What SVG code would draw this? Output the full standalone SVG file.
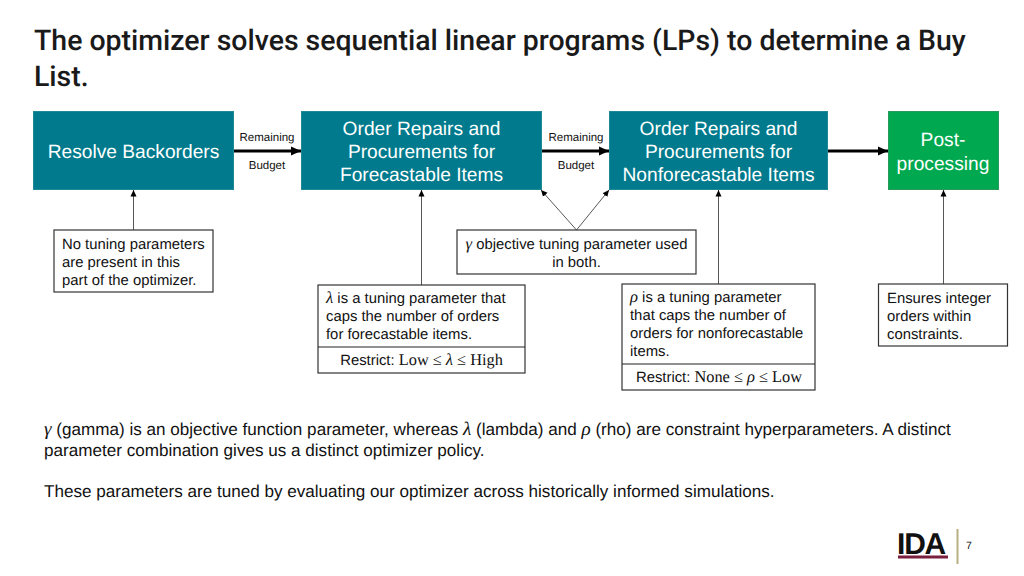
<svg xmlns="http://www.w3.org/2000/svg" width="1024" height="576" viewBox="0 0 1024 576">
<style>
text{font-family:"Liberation Sans",Arial,sans-serif;fill:#111;text-rendering:geometricPrecision}
.title{font-family:Roboto,"Liberation Sans",sans-serif;font-size:28.450px;font-weight:500;fill:#1a1a1a}
.teal{fill:#007a8c;stroke:#1f8a96}
.green{fill:#00a84f;stroke:#2a9a5c}
.pt{font-size:19.200px;fill:#fff;text-anchor:middle}
.lab{font-size:11.500px;text-anchor:middle}
.note{fill:#fff;stroke:#333;stroke-width:1.2}
.nt{font-size:14.850px}
.mid{text-anchor:middle}
.body{font-size:17.100px}
.m{font-family:"Liberation Serif",serif;font-style:italic;font-size:1.12em}
.s{font-family:"Liberation Serif",serif;font-size:1.1em}
.thick{stroke:#000;stroke-width:3.2;fill:none;marker-end:url(#big)}
.thin{stroke:#444;stroke-width:.9;fill:none;marker-end:url(#small)}
</style>
<defs>
<marker id="big" markerUnits="userSpaceOnUse" markerWidth="10" markerHeight="10" refX="10" refY="5" orient="auto"><path d="M0 .5L10 5L0 9.500Z" fill="#000"/></marker>
<marker id="small" markerUnits="userSpaceOnUse" markerWidth="7" markerHeight="7" refX="6.500" refY="3.500" orient="auto"><path d="M0 .5L6.500 3.500L0 6.500Z" fill="#000"/></marker>
</defs>
<text class="title" x="34" y="50">The optimizer solves sequential linear programs (LPs) to determine a Buy</text>
<text class="title" x="34" y="86">List.</text>

<g id="connectors">
<path class="thick" d="M233 151H301"/>
<path class="thick" d="M541 151H609"/>
<path class="thick" d="M828 151H888"/>
<path class="thin" d="M133.500 230V190"/>
<path class="thin" d="M421.500 285V190"/>
<path class="thin" d="M576.500 230L541 190"/>
<path class="thin" d="M576.500 230L609 190"/>
<path class="thin" d="M718.500 284V190"/>
<path class="thin" d="M943.500 284V190"/>
</g>
<g id="label-remaining-1"><text class="lab" x="267" y="141">Remaining</text><text class="lab" x="267" y="169">Budget</text></g>
<g id="label-remaining-2"><text class="lab" x="576" y="141">Remaining</text><text class="lab" x="576" y="169">Budget</text></g>

<g id="node-backorders"><rect class="teal" x="33.500" y="111.500" width="200" height="78"/><text class="pt" x="133.500" y="157.500">Resolve Backorders</text></g>
<g id="node-forecastable"><rect class="teal" x="301.500" y="111.500" width="240" height="78"/><text class="pt" x="421.500" y="134.500">Order Repairs and</text><text class="pt" x="421.500" y="157.500">Procurements for</text><text class="pt" x="421.500" y="180.500">Forecastable Items</text></g>
<g id="node-nonforecastable"><rect class="teal" x="609.500" y="111.500" width="218" height="78"/><text class="pt" x="718.500" y="134.500">Order Repairs and</text><text class="pt" x="718.500" y="157.500">Procurements for</text><text class="pt" x="718.500" y="180.500">Nonforecastable Items</text></g>
<g id="node-post"><rect class="green" x="888.500" y="111.500" width="110" height="78"/><text class="pt" x="943" y="146">Post-</text><text class="pt" x="943" y="169.500">processing</text></g>

<g id="note-none"><rect class="note" x="54" y="230" width="159" height="62"/><text class="nt" x="62" y="249">No tuning parameters</text><text class="nt" x="62" y="267">are present in this</text><text class="nt" x="62" y="285">part of the optimizer.</text></g>
<g id="note-gamma"><rect class="note" x="457" y="230" width="239" height="44"/><text class="nt mid" x="576.500" y="249"><tspan class="m">γ</tspan> objective tuning parameter used</text><text class="nt mid" x="576.500" y="267">in both.</text></g>
<g id="note-lambda"><rect class="note" x="318" y="285" width="207" height="88"/><path d="M318 347H525" stroke="#222" stroke-width="1.200"/><text class="nt" x="326" y="303"><tspan class="m">λ</tspan> is a tuning parameter that</text><text class="nt" x="326" y="321">caps the number of orders</text><text class="nt" x="326" y="339">for forecastable items.</text><text class="nt mid" x="421.500" y="365">Restrict: <tspan class="s">Low ≤ </tspan><tspan class="m">λ</tspan><tspan class="s"> ≤ High</tspan></text></g>
<g id="note-rho"><rect class="note" x="622" y="284" width="193" height="106"/><path d="M622 364H815" stroke="#222" stroke-width="1.200"/><text class="nt" x="630" y="302"><tspan class="m">ρ</tspan> is a tuning parameter</text><text class="nt" x="630" y="320">that caps the number of</text><text class="nt" x="630" y="338">orders for nonforecastable</text><text class="nt" x="630" y="356">items.</text><text class="nt mid" x="719" y="382">Restrict: <tspan class="s">None ≤ </tspan><tspan class="m">ρ</tspan><tspan class="s"> ≤ Low</tspan></text></g>
<g id="note-post"><rect class="note" x="878.500" y="284" width="129" height="62"/><text class="nt" x="887" y="303">Ensures integer</text><text class="nt" x="887" y="321">orders within</text><text class="nt" x="887" y="339">constraints.</text></g>

<text class="body" x="44" y="435"><tspan class="m">γ</tspan> (gamma) is an objective function parameter, whereas <tspan class="m">λ</tspan> (lambda) and <tspan class="m">ρ</tspan> (rho) are constraint hyperparameters. A distinct</text>
<text class="body" x="44" y="455.500">parameter combination gives us a distinct optimizer policy.</text>
<text class="body" x="44" y="496.500">These parameters are tuned by evaluating our optimizer across historically informed simulations.</text>

<g id="logo">
<text x="897" y="554" font-weight="700" style="font-size:30px;letter-spacing:-1.200px;fill:#111">IDA</text>
<rect x="898" y="555.500" width="50" height="3" fill="#7a1f3d"/>
<rect x="956.500" y="529" width="2" height="35" fill="#b8b083"/>
<text x="966" y="549" style="font-size:10.500px">7</text>
</g>
</svg>
